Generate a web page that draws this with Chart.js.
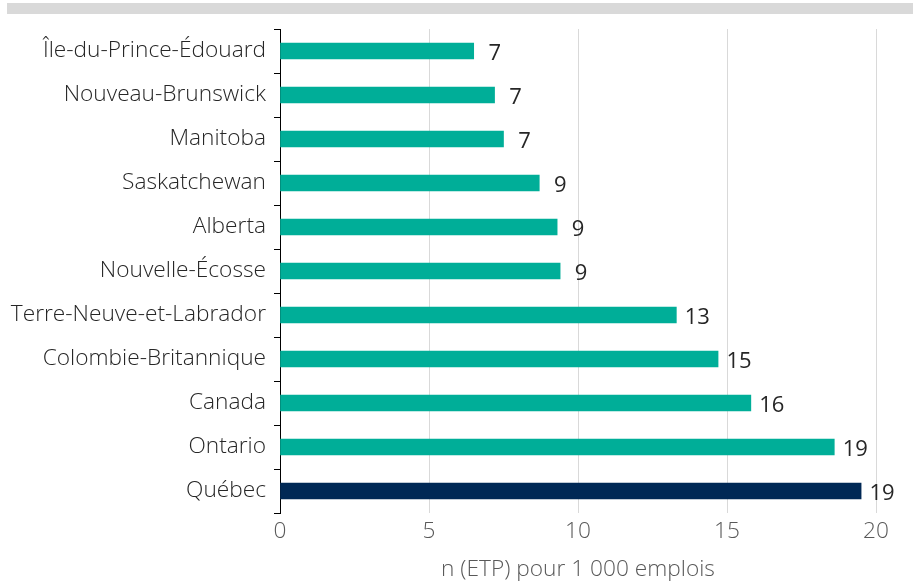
<!DOCTYPE html>
<html>
<head>
<meta charset="utf-8">
<script src="https://cdn.jsdelivr.net/npm/chart.js@4.4.0/dist/chart.umd.min.js"></script>
<style>
    html, body { margin: 0; padding: 0; background: #fff; }
    #wrap { position: relative; width: 913px; height: 583px; }
    #topband { position: absolute; left: 7px; top: 3px; width: 906px; height: 11px; background: #d9d9d9; }
</style>
</head>
<body>
<div id="wrap">
    <div id="topband"></div>
    <canvas id="chart" width="913" height="583"></canvas>
</div>
<script>
// Données
const provinces = [
    'Île-du-Prince-Édouard', 'Nouveau-Brunswick', 'Manitoba', 'Saskatchewan', 'Alberta',
    'Nouvelle-Écosse', 'Terre-Neuve-et-Labrador', 'Colombie-Britannique', 'Canada', 'Ontario', 'Québec'
];
const valeurs = [6.5, 7.2, 7.5, 8.7, 9.3, 9.4, 13.3, 14.7, 15.8, 18.6, 19.5];
const etiquettes = ['7', '7', '7', '9', '9', '9', '13', '15', '16', '19', '19'];
const ticksX = [0, 5, 10, 15, 20];

const TEAL = '#00ae98';
const NAVY = '#002855';
const FONT = '"Open Sans", "DejaVu Sans", sans-serif';
const TAILLE = 22.7;
const POIDS = 300;

const couleurs = provinces.map(p => p === 'Québec' ? NAVY : TEAL);

// étiquettes de valeur au bout des barres
const valueLabels = {
    id: 'valueLabels',
    afterDatasetsDraw(chart) {
        const ctx = chart.ctx;
        const meta = chart.getDatasetMeta(0);
        ctx.save();
        ctx.font = '22px ' + FONT;
        ctx.fillStyle = '#262626';
        ctx.textAlign = 'center';
        ctx.textBaseline = 'middle';
        meta.data.forEach((bar, i) => {
            ctx.fillText(etiquettes[i], bar.x + 21, bar.y + 3);
        });
        ctx.restore();
    }
};

new Chart(document.getElementById('chart').getContext('2d'), {
    type: 'bar',
    data: {
        labels: provinces,
        datasets: [{
            data: valeurs,
            backgroundColor: couleurs,
            barThickness: 16
        }]
    },
    options: {
        indexAxis: 'y',
        responsive: false,
        animation: false,
        layout: { padding: { top: 29, right: 37, left: 0, bottom: 0 } },
        plugins: {
            legend: { display: false },
            tooltip: { enabled: false }
        },
        scales: {
            x: {
                min: 0,
                max: 20,
                afterBuildTicks: scale => { scale.ticks = ticksX.map(v => ({ value: v })); },
                afterFit: scale => { scale.height = 70; },
                border: { display: false },
                grid: {
                    color: ctx => ctx.tick && ctx.tick.value === 0 ? 'rgba(0,0,0,0)' : '#d9d9d9',
                    lineWidth: 1,
                    drawTicks: false
                },
                ticks: {
                    padding: 5,
                    color: '#595959',
                    font: { family: FONT, size: TAILLE, weight: POIDS }
                },
                title: {
                    display: true,
                    text: 'n (ETP) pour 1 000 emplois',
                    color: '#595959',
                    padding: { top: 0, bottom: 0 },
                    font: { family: FONT, size: TAILLE, weight: POIDS }
                }
            },
            y: {
                afterFit: scale => { scale.width = 280; },
                border: { display: true, color: '#000', width: 1 },
                grid: {
                    offset: true,
                    drawOnChartArea: false,
                    drawTicks: true,
                    tickLength: 6,
                    color: '#000'
                },
                ticks: {
                    padding: 8,
                    color: '#262626',
                    font: { family: FONT, size: TAILLE, weight: POIDS }
                }
            }
        }
    },
    plugins: [valueLabels]
});
</script>
</body>
</html>
